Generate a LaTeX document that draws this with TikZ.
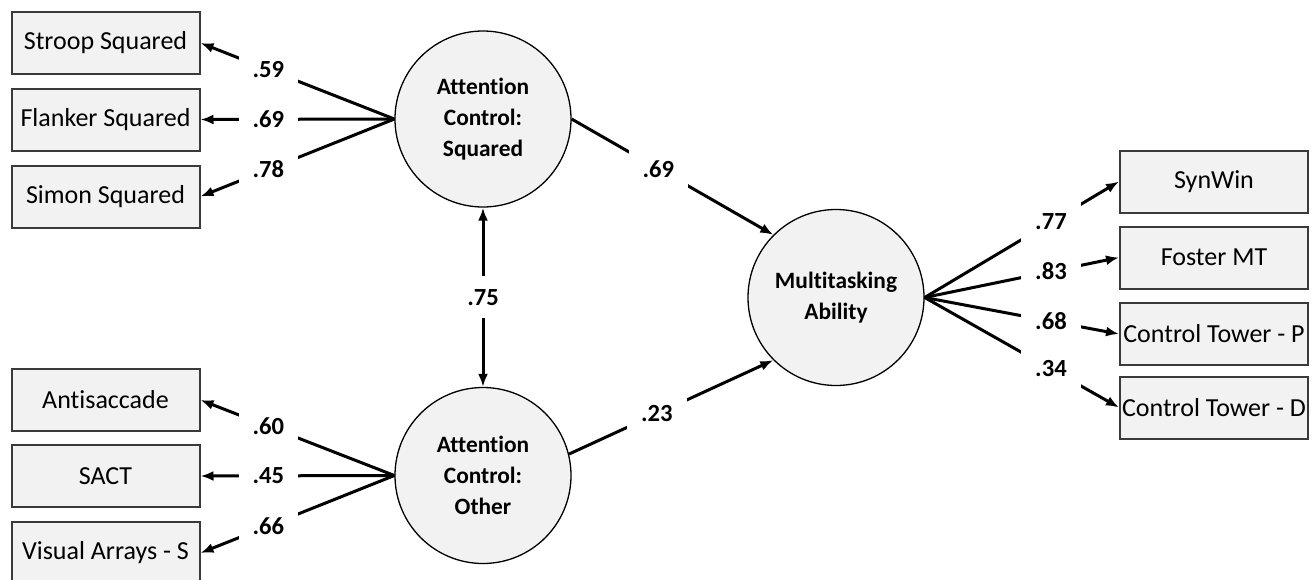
\documentclass[tikz,border=0pt]{standalone}
\usepackage{fontspec}
\setmainfont{Carlito}[Ligatures=NoCommon]
\usepackage{xcolor}
\usepackage{tikz}
\usetikzlibrary{arrows.meta}

\definecolor{boxfill}{HTML}{F2F2F2}
\definecolor{boxline}{HTML}{3A3A3A}

\tikzset{
  measure/.style={draw=boxline, line width=1pt, fill=boxfill, minimum width=94pt,
    minimum height=31pt, inner sep=1pt, font=\fontsize{13}{15}\selectfont},
  latent/.style={circle, draw, line width=0.65pt, fill=boxfill, minimum size=88pt,
    inner sep=0pt, align=center, font=\fontsize{11.7}{15.5}\selectfont\bfseries},
  path arrow/.style={line width=1.5pt, -{Latex[length=6.5pt,width=5pt]}},
  weight/.style={fill=white, inner xsep=7pt, inner ysep=6.5pt,
    font=\fontsize{12.3}{14}\selectfont\bfseries}
}

\begin{document}
\begin{tikzpicture}[x=0.5pt, y=-0.5pt]
        \useasboundingbox (0,0) rectangle (1313,579);
        % Draw the latent factors
        \node[latent] (acsq) at (483,119) {Attention\\Control:\\Squared};
        \node[latent] (acoth) at (483,475.5) {Attention\\Control:\\Other};
        \node[latent] (multi) at (836,297.5) {Multitasking\\Ability};
        % Draw the measures
        \node[measure] (stroop) at (105.5,43) {Stroop Squared};
        \node[measure] (flanker) at (105.5,119.5) {Flanker Squared};
        \node[measure] (simon) at (105.5,196.5) {Simon Squared};
        \node[measure] (anti) at (105.5,400) {Antisaccade};
        \node[measure] (sact) at (105.5,476) {SACT};
        \node[measure] (varray) at (105.5,553) {Visual Arrays - S};
        \node[measure] (synwin) at (1214,181.5) {SynWin};
        \node[measure] (foster) at (1214,257.5) {Foster MT};
        \node[measure] (towerp) at (1214,334) {Control Tower - P};
        \node[measure] (towerd) at (1214,407.5) {Control Tower - D};
        % Draw loadings
        \draw[path arrow] (acsq.west) -- (stroop.east) node[weight, pos=.65] {.59};
        \draw[path arrow] (acsq.west) -- (flanker.east) node[weight, pos=.65] {.69};
        \draw[path arrow] (acsq.west) -- (simon.east) node[weight, pos=.65] {.78};
        \draw[path arrow] (acoth.west) -- (anti.east) node[weight, pos=.65] {.60};
        \draw[path arrow] (acoth.west) -- (sact.east) node[weight, pos=.65] {.45};
        \draw[path arrow] (acoth.west) -- (varray.east) node[weight, pos=.65] {.66};
        \draw[path arrow] (multi.east) -- (synwin.west) node[weight, pos=.65] {.77};
        \draw[path arrow] (multi.east) -- (foster.west) node[weight, pos=.65] {.83};
        \draw[path arrow] (multi.east) -- (towerp.west) node[weight, pos=.65] {.68};
        \draw[path arrow] (multi.east) -- (towerd.west) node[weight, pos=.65] {.34};
        % Draw structural paths
        \draw[path arrow] (acsq.east) -- (multi.135) node[weight, pos=.43] {.69};
        \draw[path arrow] (acoth.14) -- (multi.225) node[weight, pos=.43] {.23};
        \draw[path arrow, {Latex[length=6.5pt,width=5pt]}-{Latex[length=6.5pt,width=5pt]}]
          (acsq.south) -- (acoth.north) node[weight, midway] {.75};
\end{tikzpicture}
\end{document}
